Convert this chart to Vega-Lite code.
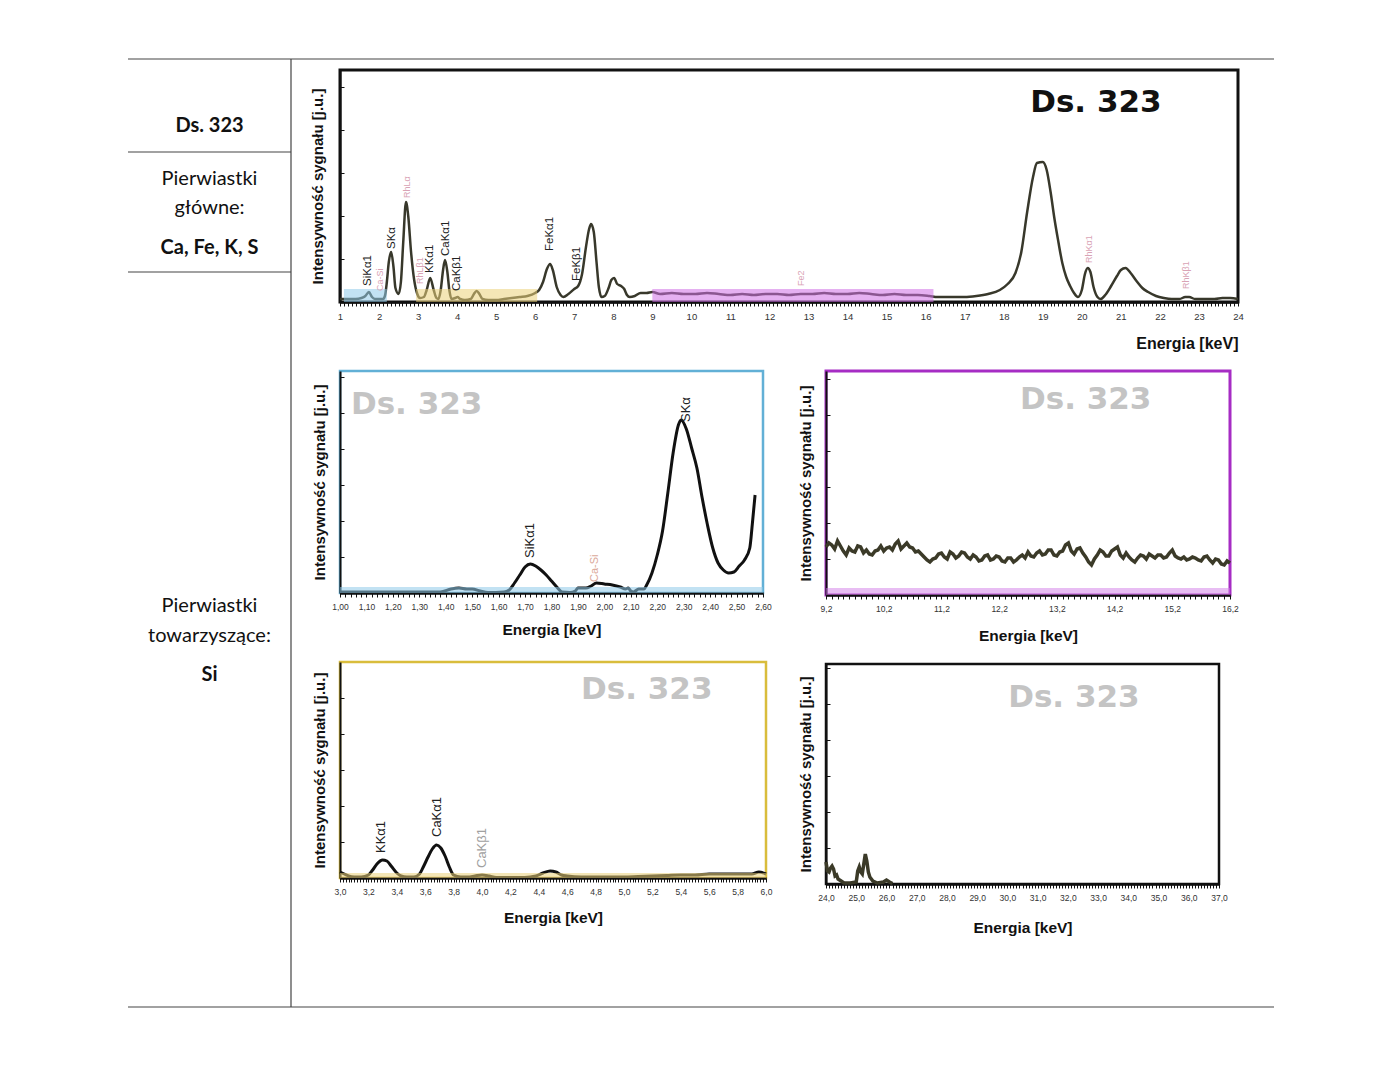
{
"$schema": "https://vega.github.io/schema/vega-lite/v6.json",
"background": "white",
"padding": {"left": 127, "top": 58, "right": 0, "bottom": 0},
"bounds": "flush",
"spacing": 49,
"config": {
  "axis": {"labelFont": "Liberation Sans", "titleFont": "Liberation Sans", "domainColor": "#111", "tickColor": "#111", "grid": false, "labelColor": "#333", "titleColor": "#111"}
},
"hconcat": [
{
  "width": 163, "height": 937,
  "view": {"stroke": null},
  "layer": [
    {
      "data": {"values": [
        {"x": 0, "x2": 1146, "y": 0, "y2": 0},
        {"x": 0, "x2": 1146, "y": 948, "y2": 948},
        {"x": 0, "x2": 163, "y": 93, "y2": 93},
        {"x": 0, "x2": 163, "y": 213, "y2": 213},
        {"x": 163, "x2": 163, "y": 0, "y2": 948}
      ]},
      "mark": {"type": "rule", "color": "#444", "strokeWidth": 1.2},
      "encoding": {
        "x": {"field": "x", "type": "quantitative", "scale": {"domain": [0, 163], "nice": false, "zero": false}, "axis": null},
        "x2": {"field": "x2"},
        "y": {"field": "y", "type": "quantitative", "scale": {"domain": [11, 948], "nice": false, "zero": false, "reverse": true}, "axis": null},
        "y2": {"field": "y2"}
      }
    },
    {
      "data": {"values": [
        {"x": 81.5, "y": 67, "t": "Ds. 323"},
        {"x": 81.5, "y": 189, "t": "Ca, Fe, K, S"},
        {"x": 81.5, "y": 616, "t": "Si"}
      ]},
      "mark": {"type": "text", "font": "Lato", "fontSize": 20, "fontWeight": "bold", "align": "center", "baseline": "middle", "color": "#111"},
      "encoding": {
        "x": {"field": "x", "type": "quantitative", "scale": {"domain": [0, 163], "nice": false, "zero": false}, "axis": null},
        "y": {"field": "y", "type": "quantitative", "scale": {"domain": [11, 948], "nice": false, "zero": false, "reverse": true}, "axis": null},
        "text": {"field": "t"}
      }
    },
    {
      "data": {"values": [
        {"x": 81.5, "y": 120, "t": "Pierwiastki"},
        {"x": 81.5, "y": 149, "t": "główne:"},
        {"x": 81.5, "y": 547, "t": "Pierwiastki"},
        {"x": 81.5, "y": 577, "t": "towarzyszące:"}
      ]},
      "mark": {"type": "text", "font": "Lato", "fontSize": 20, "align": "center", "baseline": "middle", "color": "#111"},
      "encoding": {
        "x": {"field": "x", "type": "quantitative", "scale": {"domain": [0, 163], "nice": false, "zero": false}, "axis": null},
        "y": {"field": "y", "type": "quantitative", "scale": {"domain": [11, 948], "nice": false, "zero": false, "reverse": true}, "axis": null},
        "text": {"field": "t"}
      }
    }
  ]
},
{
  "bounds": "flush",
  "spacing": 486,
  "hconcat": [
  {
    "bounds": "flush",
    "spacing": 69,
    "vconcat": [
    {
      "width": 898, "height": 232,
      "view": {"stroke": "#111", "strokeWidth": 3},
      "encoding": {
        "x": {"field": "e", "type": "quantitative", "scale": {"domain": [1, 24], "nice": false, "zero": false},
          "axis": {"title": "Energia [keV]", "titleAnchor": "end", "titleFontSize": 16, "titleFontWeight": "bold", "titlePadding": 15,
            "tickCount": 230, "tickSize": 4, "domainWidth": 2.5, "labelFontSize": 9.5, "labelPadding": 5, "labelOverlap": false, "labelFlush": false,
            "labelExpr": "abs(datum.value - round(datum.value)) < 1e-6 ? format(datum.value, 'd') : ''"}},
        "y": {"field": "i", "type": "quantitative", "scale": {"domain": [0, 232], "nice": false},
          "axis": {"title": "Intensywność sygnału [j.u.]", "titleFontSize": 15, "titleFontWeight": "bold", "titlePadding": 14, "labels": false, "values": [43, 86, 129, 172, 215], "tickSize": -4, "domainWidth": 2}}
      },
      "layer": [
        {
          "data": {"values": [
            {"e":1.0,"i":3},{"e":1.2,"i":3},{"e":1.4,"i":3},{"e":1.55,"i":4},{"e":1.65,"i":6},{"e":1.74,"i":10},{"e":1.82,"i":5},{"e":1.9,"i":3},{"e":2.0,"i":3},{"e":2.1,"i":3},{"e":2.15,"i":6},{"e":2.2,"i":20},{"e":2.25,"i":40},{"e":2.31,"i":50},{"e":2.37,"i":35},{"e":2.42,"i":14},{"e":2.5,"i":8},{"e":2.56,"i":20},{"e":2.62,"i":60},{"e":2.69,"i":100},{"e":2.75,"i":85},{"e":2.82,"i":50},{"e":2.9,"i":22},{"e":2.98,"i":8},{"e":3.05,"i":4},{"e":3.15,"i":5},{"e":3.22,"i":12},{"e":3.31,"i":24},{"e":3.4,"i":12},{"e":3.47,"i":4},{"e":3.52,"i":3},{"e":3.58,"i":12},{"e":3.64,"i":32},{"e":3.69,"i":42},{"e":3.75,"i":30},{"e":3.8,"i":12},{"e":3.86,"i":3},{"e":3.95,"i":4},{"e":4.01,"i":5},{"e":4.08,"i":3},{"e":4.2,"i":2},{"e":4.35,"i":3},{"e":4.43,"i":8},{"e":4.5,"i":11},{"e":4.57,"i":8},{"e":4.65,"i":3},{"e":4.8,"i":2},{"e":5.0,"i":2},{"e":5.2,"i":3},{"e":5.4,"i":4},{"e":5.6,"i":5},{"e":5.8,"i":6},{"e":6.0,"i":9},{"e":6.1,"i":12},{"e":6.2,"i":20},{"e":6.3,"i":33},{"e":6.38,"i":38},{"e":6.45,"i":32},{"e":6.55,"i":15},{"e":6.65,"i":7},{"e":6.72,"i":5},{"e":6.85,"i":8},{"e":7.0,"i":13},{"e":7.1,"i":16},{"e":7.2,"i":28},{"e":7.3,"i":55},{"e":7.38,"i":73},{"e":7.43,"i":78},{"e":7.5,"i":70},{"e":7.57,"i":40},{"e":7.63,"i":15},{"e":7.7,"i":5},{"e":7.78,"i":6},{"e":7.88,"i":14},{"e":7.95,"i":22},{"e":8.02,"i":24},{"e":8.1,"i":18},{"e":8.2,"i":16},{"e":8.28,"i":13},{"e":8.35,"i":7},{"e":8.42,"i":5},{"e":8.55,"i":6},{"e":8.7,"i":9},{"e":8.85,"i":9},{"e":9.0,"i":10},{"e":9.2,"i":8},{"e":9.5,"i":9},{"e":9.8,"i":8},{"e":10.1,"i":8},{"e":10.4,"i":9},{"e":10.7,"i":8},{"e":11.0,"i":7},{"e":11.3,"i":8},{"e":11.6,"i":7},{"e":11.9,"i":8},{"e":12.2,"i":8},{"e":12.5,"i":7},{"e":12.8,"i":8},{"e":13.1,"i":8},{"e":13.4,"i":9},{"e":13.7,"i":8},{"e":14.0,"i":8},{"e":14.3,"i":9},{"e":14.6,"i":8},{"e":14.9,"i":7},{"e":15.2,"i":8},{"e":15.5,"i":7},{"e":15.8,"i":7},{"e":16.1,"i":6},{"e":16.3,"i":5},{"e":16.6,"i":5},{"e":17.0,"i":5},{"e":17.3,"i":6},{"e":17.6,"i":8},{"e":17.9,"i":12},{"e":18.1,"i":18},{"e":18.3,"i":29},{"e":18.45,"i":50},{"e":18.6,"i":90},{"e":18.75,"i":125},{"e":18.85,"i":139},{"e":19.0,"i":140},{"e":19.1,"i":132},{"e":19.2,"i":110},{"e":19.3,"i":83},{"e":19.4,"i":60},{"e":19.5,"i":39},{"e":19.6,"i":25},{"e":19.7,"i":16},{"e":19.8,"i":9},{"e":19.9,"i":5},{"e":20.0,"i":12},{"e":20.08,"i":28},{"e":20.15,"i":34},{"e":20.22,"i":30},{"e":20.3,"i":15},{"e":20.4,"i":5},{"e":20.48,"i":3},{"e":20.6,"i":7},{"e":20.75,"i":16},{"e":20.9,"i":26},{"e":21.0,"i":32},{"e":21.12,"i":34},{"e":21.25,"i":29},{"e":21.4,"i":21},{"e":21.55,"i":14},{"e":21.7,"i":10},{"e":21.9,"i":6},{"e":22.1,"i":4},{"e":22.3,"i":3},{"e":22.5,"i":3},{"e":22.65,"i":5},{"e":22.75,"i":5},{"e":22.9,"i":3},{"e":23.1,"i":3},{"e":23.4,"i":3},{"e":23.6,"i":4},{"e":23.8,"i":4},{"e":24.0,"i":3}
          ]},
          "mark": {"type": "line", "color": "#38382b", "strokeWidth": 2.5, "interpolate": "monotone"}
        },
        {
          "data": {"values": [
            {"band": "Si", "e": 1.1, "e2": 2.2, "i": 0, "i2": 13},
            {"band": "K-Ca", "e": 2.95, "e2": 6.05, "i": 0, "i2": 13},
            {"band": "Fe", "e": 9.0, "e2": 16.2, "i": 0, "i2": 13}
          ]},
          "mark": {"type": "rect", "opacity": 0.55},
          "encoding": {"x2": {"field": "e2"}, "y2": {"field": "i2"},
            "color": {"field": "band", "type": "nominal", "scale": {"domain": ["Si", "K-Ca", "Fe"], "range": ["#8fcbea", "#ebd27a", "#cf6fe6"]}, "legend": null}}
        },
        {
          "data": {"values": [
            {"e": 1.72, "i": 16, "t": "SiKα1"},
            {"e": 2.32, "i": 53, "t": "SKα"},
            {"e": 3.31, "i": 29, "t": "KKα1"},
            {"e": 3.72, "i": 46, "t": "CaKα1"},
            {"e": 4.0, "i": 11, "t": "CaKβ1"},
            {"e": 6.38, "i": 51, "t": "FeKα1"},
            {"e": 7.07, "i": 21, "t": "FeKβ1"}
          ]},
          "mark": {"type": "text", "angle": 270, "align": "left", "baseline": "middle", "font": "Liberation Sans", "fontSize": 11.5, "color": "#222"},
          "encoding": {"text": {"field": "t"}}
        },
        {
          "data": {"values": [
            {"e": 2.03, "i": 11, "t": "Ca-Si"},
            {"e": 2.72, "i": 104, "t": "RhLα"},
            {"e": 3.05, "i": 18, "t": "RhLβ1"},
            {"e": 12.8, "i": 16, "t": "Fe2"},
            {"e": 20.18, "i": 39, "t": "RhKα1"},
            {"e": 22.67, "i": 13, "t": "RhKβ1"}
          ]},
          "mark": {"type": "text", "angle": 270, "align": "left", "baseline": "middle", "font": "Liberation Sans", "fontSize": 9, "color": "#d9a3b5"},
          "encoding": {"text": {"field": "t"}}
        },
        {
          "data": {"values": [{"e": 20.36, "i": 199, "t": "Ds. 323"}]},
          "mark": {"type": "text", "align": "center", "baseline": "middle", "font": "DejaVu Sans", "fontWeight": "bold", "fontSize": 31, "color": "#111"},
          "encoding": {"text": {"field": "t"}}
        }
      ]
    },
    {
      "width": 423, "height": 222,
      "view": {"stroke": "#62b0d6", "strokeWidth": 2.5},
      "encoding": {
        "x": {"field": "e", "type": "quantitative", "scale": {"domain": [1.0, 2.6], "nice": false, "zero": false},
          "axis": {"title": "Energia [keV]", "titleFontSize": 15.5, "titleFontWeight": "bold", "titlePadding": 12,
            "tickCount": 80, "tickSize": 4, "domainWidth": 2.5, "labelFontSize": 8.5, "labelPadding": 5, "labelOverlap": false, "labelFlush": false,
            "labelExpr": "abs(datum.value * 10 - round(datum.value * 10)) < 1e-6 ? replace(format(datum.value, '.2f'), '.', ',') : ''"}},
        "y": {"field": "i", "type": "quantitative", "scale": {"domain": [0, 222], "nice": false},
          "axis": {"title": "Intensywność sygnału [j.u.]", "titleFontSize": 15, "titleFontWeight": "bold", "titlePadding": 12, "labels": false, "values": [36, 72, 108, 144, 180, 216], "tickSize": -4, "domainWidth": 2}}
      },
      "layer": [
        {
          "data": {"values": [
            {"e":1.0,"i":1},{"e":1.1,"i":1},{"e":1.2,"i":1},{"e":1.3,"i":1},{"e":1.38,"i":1},{"e":1.42,"i":4},{"e":1.45,"i":5},{"e":1.48,"i":4},{"e":1.5,"i":4},{"e":1.53,"i":2},{"e":1.56,"i":0.5},{"e":1.62,"i":1},{"e":1.64,"i":3},{"e":1.66,"i":10},{"e":1.68,"i":18},{"e":1.7,"i":26},{"e":1.72,"i":29},{"e":1.74,"i":27},{"e":1.76,"i":23},{"e":1.78,"i":18},{"e":1.8,"i":12},{"e":1.82,"i":6},{"e":1.84,"i":1},{"e":1.87,"i":0.5},{"e":1.89,"i":2},{"e":1.9,"i":5},{"e":1.93,"i":5},{"e":1.95,"i":7},{"e":1.97,"i":10},{"e":2.0,"i":9},{"e":2.03,"i":8},{"e":2.06,"i":6},{"e":2.08,"i":4},{"e":2.09,"i":5},{"e":2.1,"i":2},{"e":2.11,"i":1},{"e":2.13,"i":4},{"e":2.15,"i":4},{"e":2.16,"i":8},{"e":2.18,"i":20},{"e":2.2,"i":38},{"e":2.22,"i":62},{"e":2.24,"i":100},{"e":2.26,"i":140},{"e":2.28,"i":168},{"e":2.29,"i":173},{"e":2.31,"i":164},{"e":2.33,"i":145},{"e":2.35,"i":125},{"e":2.37,"i":95},{"e":2.39,"i":68},{"e":2.41,"i":45},{"e":2.43,"i":30},{"e":2.45,"i":23},{"e":2.47,"i":20},{"e":2.49,"i":21},{"e":2.51,"i":27},{"e":2.53,"i":33},{"e":2.55,"i":45},{"e":2.56,"i":70},{"e":2.57,"i":98}
          ]},
          "mark": {"type": "line", "color": "#111", "strokeWidth": 3, "interpolate": "monotone"}
        },
        {
          "data": {"values": [{"band": "Si", "e": 1.0, "e2": 2.6, "i": 0, "i2": 6}]},
          "mark": {"type": "rect", "opacity": 0.55, "color": "#8fcbea"},
          "encoding": {"x2": {"field": "e2"}, "y2": {"field": "i2"}}
        },
        {
          "data": {"values": [
            {"e": 1.72, "i": 35, "t": "SiKα1"},
            {"e": 2.307, "i": 171, "t": "SKα"}
          ]},
          "mark": {"type": "text", "angle": 270, "align": "left", "baseline": "middle", "font": "Liberation Sans", "fontSize": 13, "color": "#222"},
          "encoding": {"text": {"field": "t"}}
        },
        {
          "data": {"values": [{"e": 1.966, "i": 11, "t": "Ca-Si"}]},
          "mark": {"type": "text", "angle": 270, "align": "left", "baseline": "middle", "font": "Liberation Sans", "fontSize": 11, "color": "#dba99a"},
          "encoding": {"text": {"field": "t"}}
        },
        {
          "data": {"values": [{"e": 1.29, "i": 188, "t": "Ds. 323"}]},
          "mark": {"type": "text", "align": "center", "baseline": "middle", "font": "DejaVu Sans", "fontWeight": "bold", "fontSize": 31, "color": "#c4c4c4"},
          "encoding": {"text": {"field": "t"}}
        }
      ]
    },
    {
      "width": 426, "height": 216,
      "view": {"stroke": "#d9bd3c", "strokeWidth": 2.5},
      "encoding": {
        "x": {"field": "e", "type": "quantitative", "scale": {"domain": [3.0, 6.0], "nice": false, "zero": false},
          "axis": {"title": "Energia [keV]", "titleFontSize": 15.5, "titleFontWeight": "bold", "titlePadding": 15,
            "tickCount": 150, "tickSize": 4, "domainWidth": 2.5, "labelFontSize": 8.5, "labelPadding": 5, "labelOverlap": false, "labelFlush": false,
            "labelExpr": "abs(datum.value * 5 - round(datum.value * 5)) < 1e-6 ? replace(format(datum.value, '.1f'), '.', ',') : ''"}},
        "y": {"field": "i", "type": "quantitative", "scale": {"domain": [0, 216], "nice": false},
          "axis": {"title": "Intensywność sygnału [j.u.]", "titleFontSize": 15, "titleFontWeight": "bold", "titlePadding": 12, "labels": false, "values": [36, 72, 108, 144, 180], "tickSize": -4, "domainWidth": 2}}
      },
      "layer": [
        {
          "data": {"values": [
            {"e":3.0,"i":6},{"e":3.03,"i":4},{"e":3.06,"i":2},{"e":3.1,"i":1},{"e":3.15,"i":1},{"e":3.2,"i":3},{"e":3.23,"i":8},{"e":3.26,"i":14},{"e":3.3,"i":18},{"e":3.33,"i":17},{"e":3.36,"i":12},{"e":3.4,"i":5},{"e":3.43,"i":2},{"e":3.47,"i":1},{"e":3.52,"i":1},{"e":3.56,"i":4},{"e":3.59,"i":12},{"e":3.62,"i":21},{"e":3.65,"i":29},{"e":3.68,"i":33},{"e":3.71,"i":30},{"e":3.74,"i":22},{"e":3.77,"i":11},{"e":3.8,"i":3},{"e":3.85,"i":1},{"e":3.9,"i":1},{"e":3.95,"i":2},{"e":4.0,"i":3},{"e":4.05,"i":2},{"e":4.1,"i":0.5},{"e":4.2,"i":0.5},{"e":4.3,"i":0.5},{"e":4.38,"i":2},{"e":4.43,"i":5},{"e":4.48,"i":7},{"e":4.52,"i":6},{"e":4.56,"i":3},{"e":4.6,"i":2},{"e":4.7,"i":1},{"e":4.8,"i":1},{"e":4.9,"i":1},{"e":5.0,"i":1},{"e":5.1,"i":1.5},{"e":5.2,"i":2},{"e":5.3,"i":2.5},{"e":5.4,"i":3},{"e":5.5,"i":3},{"e":5.6,"i":4},{"e":5.7,"i":4},{"e":5.8,"i":4},{"e":5.9,"i":4},{"e":5.95,"i":6},{"e":6.0,"i":4}
          ]},
          "mark": {"type": "line", "color": "#111", "strokeWidth": 3, "interpolate": "monotone"}
        },
        {
          "data": {"values": [{"band": "K-Ca", "e": 3.0, "e2": 6.0, "i": 0, "i2": 5}]},
          "mark": {"type": "rect", "opacity": 0.55, "color": "#ebd27a"},
          "encoding": {"x2": {"field": "e2"}, "y2": {"field": "i2"}}
        },
        {
          "data": {"values": [
            {"e": 3.29, "i": 25, "t": "KKα1"},
            {"e": 3.685, "i": 41, "t": "CaKα1"}
          ]},
          "mark": {"type": "text", "angle": 270, "align": "left", "baseline": "middle", "font": "Liberation Sans", "fontSize": 13, "color": "#222"},
          "encoding": {"text": {"field": "t"}}
        },
        {
          "data": {"values": [{"e": 4.0, "i": 10, "t": "CaKβ1"}]},
          "mark": {"type": "text", "angle": 270, "align": "left", "baseline": "middle", "font": "Liberation Sans", "fontSize": 13, "color": "#a0a0a0"},
          "encoding": {"text": {"field": "t"}}
        },
        {
          "data": {"values": [{"e": 5.16, "i": 188, "t": "Ds. 323"}]},
          "mark": {"type": "text", "align": "center", "baseline": "middle", "font": "DejaVu Sans", "fontWeight": "bold", "fontSize": 31, "color": "#c4c4c4"},
          "encoding": {"text": {"field": "t"}}
        }
      ]
    }
    ]
  },
  {
    "bounds": "flush",
    "spacing": 69,
    "vconcat": [
    {
      "width": 1, "height": 232,
      "view": {"stroke": null},
      "data": {"values": [{"e": 0}]},
      "mark": {"type": "tick", "opacity": 0},
      "encoding": {"x": {"field": "e", "type": "quantitative", "axis": null}}
    },
    {
      "width": 404, "height": 224,
      "view": {"stroke": "#a62cc4", "strokeWidth": 3},
      "encoding": {
        "x": {"field": "e", "type": "quantitative", "scale": {"domain": [9.2, 16.2], "nice": false, "zero": false},
          "axis": {"title": "Energia [keV]", "titleFontSize": 15.5, "titleFontWeight": "bold", "titlePadding": 16,
            "tickCount": 70, "tickSize": 4, "domainWidth": 2.5, "labelFontSize": 8.5, "labelPadding": 5, "labelOverlap": false, "labelFlush": false,
            "labelExpr": "abs((datum.value - 9.2) - round(datum.value - 9.2)) < 1e-6 ? replace(format(datum.value, '.1f'), '.', ',') : ''"}},
        "y": {"field": "i", "type": "quantitative", "scale": {"domain": [0, 224], "nice": false},
          "axis": {"title": "Intensywność sygnału [j.u.]", "titleFontSize": 15, "titleFontWeight": "bold", "titlePadding": 12, "labels": false, "values": [36, 72, 108, 144, 180, 216], "tickSize": -4, "domainWidth": 2}}
      },
      "layer": [
        {
          "data": {"values": [
            {"e":9.2,"i":48},{"e":9.25,"i":52},{"e":9.3,"i":50},{"e":9.35,"i":46},{"e":9.4,"i":54},{"e":9.45,"i":49},{"e":9.5,"i":44},{"e":9.55,"i":40},{"e":9.6,"i":47},{"e":9.65,"i":44},{"e":9.7,"i":43},{"e":9.75,"i":49},{"e":9.8,"i":48},{"e":9.85,"i":42},{"e":9.9,"i":45},{"e":9.95,"i":41},{"e":10.0,"i":40},{"e":10.05,"i":44},{"e":10.1,"i":45},{"e":10.15,"i":49},{"e":10.2,"i":44},{"e":10.25,"i":47},{"e":10.3,"i":48},{"e":10.35,"i":45},{"e":10.4,"i":51},{"e":10.45,"i":54},{"e":10.5,"i":46},{"e":10.55,"i":49},{"e":10.6,"i":52},{"e":10.65,"i":48},{"e":10.7,"i":47},{"e":10.75,"i":43},{"e":10.8,"i":44},{"e":10.85,"i":41},{"e":10.9,"i":38},{"e":10.95,"i":35},{"e":11.0,"i":33},{"e":11.05,"i":36},{"e":11.1,"i":37},{"e":11.15,"i":41},{"e":11.2,"i":42},{"e":11.25,"i":38},{"e":11.3,"i":36},{"e":11.35,"i":43},{"e":11.4,"i":41},{"e":11.45,"i":37},{"e":11.5,"i":39},{"e":11.55,"i":43},{"e":11.6,"i":42},{"e":11.65,"i":38},{"e":11.7,"i":36},{"e":11.75,"i":40},{"e":11.8,"i":38},{"e":11.85,"i":34},{"e":11.9,"i":35},{"e":11.95,"i":39},{"e":12.0,"i":40},{"e":12.05,"i":35},{"e":12.1,"i":36},{"e":12.15,"i":39},{"e":12.2,"i":38},{"e":12.25,"i":34},{"e":12.3,"i":33},{"e":12.35,"i":37},{"e":12.4,"i":37},{"e":12.45,"i":33},{"e":12.5,"i":35},{"e":12.55,"i":38},{"e":12.6,"i":40},{"e":12.65,"i":37},{"e":12.7,"i":43},{"e":12.75,"i":39},{"e":12.8,"i":38},{"e":12.85,"i":42},{"e":12.9,"i":44},{"e":12.95,"i":40},{"e":13.0,"i":41},{"e":13.05,"i":45},{"e":13.1,"i":45},{"e":13.15,"i":40},{"e":13.2,"i":39},{"e":13.25,"i":43},{"e":13.3,"i":44},{"e":13.35,"i":50},{"e":13.4,"i":52},{"e":13.45,"i":44},{"e":13.5,"i":41},{"e":13.55,"i":46},{"e":13.6,"i":47},{"e":13.65,"i":42},{"e":13.7,"i":38},{"e":13.75,"i":33},{"e":13.8,"i":30},{"e":13.85,"i":36},{"e":13.9,"i":40},{"e":13.95,"i":45},{"e":14.0,"i":43},{"e":14.05,"i":39},{"e":14.1,"i":39},{"e":14.15,"i":44},{"e":14.2,"i":46},{"e":14.25,"i":48},{"e":14.3,"i":40},{"e":14.35,"i":37},{"e":14.4,"i":42},{"e":14.45,"i":38},{"e":14.5,"i":35},{"e":14.55,"i":33},{"e":14.6,"i":37},{"e":14.65,"i":40},{"e":14.7,"i":39},{"e":14.75,"i":36},{"e":14.8,"i":41},{"e":14.85,"i":39},{"e":14.9,"i":37},{"e":14.95,"i":40},{"e":15.0,"i":40},{"e":15.05,"i":37},{"e":15.1,"i":38},{"e":15.15,"i":42},{"e":15.2,"i":45},{"e":15.25,"i":39},{"e":15.3,"i":37},{"e":15.35,"i":36},{"e":15.4,"i":38},{"e":15.45,"i":35},{"e":15.5,"i":36},{"e":15.55,"i":38},{"e":15.6,"i":37},{"e":15.65,"i":35},{"e":15.7,"i":34},{"e":15.75,"i":38},{"e":15.8,"i":39},{"e":15.85,"i":35},{"e":15.9,"i":32},{"e":15.95,"i":36},{"e":16.0,"i":35},{"e":16.05,"i":31},{"e":16.1,"i":30},{"e":16.15,"i":34},{"e":16.2,"i":32}
          ]},
          "mark": {"type": "line", "color": "#3b3a28", "strokeWidth": 3.5}
        },
        {
          "data": {"values": [{"band": "Fe", "e": 9.2, "e2": 16.2, "i": 0, "i2": 7}]},
          "mark": {"type": "rect", "opacity": 0.5, "color": "#d27ce8"},
          "encoding": {"x2": {"field": "e2"}, "y2": {"field": "i2"}}
        },
        {
          "data": {"values": [{"e": 13.7, "i": 195, "t": "Ds. 323"}]},
          "mark": {"type": "text", "align": "center", "baseline": "middle", "font": "DejaVu Sans", "fontWeight": "bold", "fontSize": 31, "color": "#c4c4c4"},
          "encoding": {"text": {"field": "t"}}
        }
      ]
    },
    {
      "width": 393, "height": 220,
      "view": {"stroke": "#111", "strokeWidth": 2.5},
      "encoding": {
        "x": {"field": "e", "type": "quantitative", "scale": {"domain": [24, 37], "nice": false, "zero": false},
          "axis": {"title": "Energia [keV]", "titleFontSize": 15.5, "titleFontWeight": "bold", "titlePadding": 19,
            "tickCount": 130, "tickSize": 4, "domainWidth": 2.5, "labelFontSize": 8.5, "labelPadding": 5, "labelOverlap": false, "labelFlush": false,
            "labelExpr": "abs(datum.value - round(datum.value)) < 1e-6 ? replace(format(datum.value, '.1f'), '.', ',') : ''"}},
        "y": {"field": "i", "type": "quantitative", "scale": {"domain": [0, 220], "nice": false},
          "axis": {"title": "Intensywność sygnału [j.u.]", "titleFontSize": 15, "titleFontWeight": "bold", "titlePadding": 12, "labels": false, "values": [36, 72, 108, 144, 180, 216], "tickSize": -4, "domainWidth": 2}}
      },
      "layer": [
        {
          "data": {"values": [
            {"e":24.0,"i":22},{"e":24.05,"i":13},{"e":24.1,"i":12},{"e":24.15,"i":16},{"e":24.2,"i":18},{"e":24.25,"i":15},{"e":24.3,"i":8},{"e":24.35,"i":9},{"e":24.4,"i":5},{"e":24.5,"i":3},{"e":24.6,"i":1},{"e":24.8,"i":1},{"e":25.0,"i":2},{"e":25.05,"i":13},{"e":25.1,"i":17},{"e":25.15,"i":12},{"e":25.2,"i":10},{"e":25.25,"i":20},{"e":25.3,"i":30},{"e":25.35,"i":23},{"e":25.4,"i":12},{"e":25.45,"i":7},{"e":25.55,"i":3},{"e":25.7,"i":1},{"e":25.9,"i":2},{"e":26.0,"i":4},{"e":26.1,"i":2},{"e":26.2,"i":0.5}
          ]},
          "mark": {"type": "line", "color": "#3b3a28", "strokeWidth": 3.5}
        },
        {
          "data": {"values": [{"e": 32.2, "i": 186, "t": "Ds. 323"}]},
          "mark": {"type": "text", "align": "center", "baseline": "middle", "font": "DejaVu Sans", "fontWeight": "bold", "fontSize": 31, "color": "#c4c4c4"},
          "encoding": {"text": {"field": "t"}}
        }
      ]
    }
    ]
  }
  ]
}
]
}
